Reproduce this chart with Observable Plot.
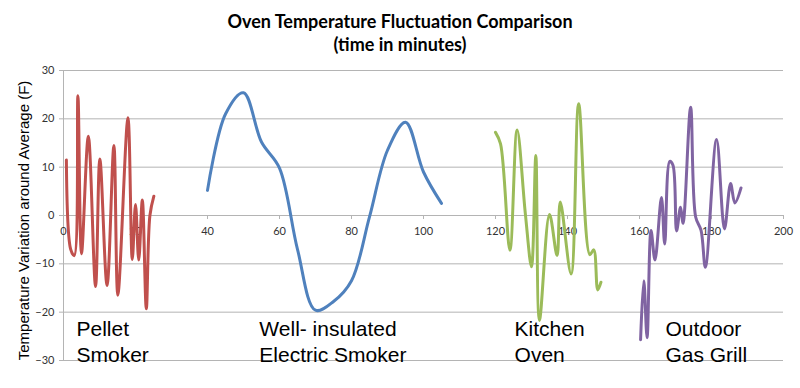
<!DOCTYPE html>
<html><head><meta charset="utf-8">
<script src="https://cdn.jsdelivr.net/npm/d3@7"></script>
<script src="https://cdn.jsdelivr.net/npm/@observablehq/plot@0.6"></script>
<style>
body{margin:0;background:#fff;width:800px;height:388px;overflow:hidden}
#title{height:58px;box-sizing:border-box;padding-top:10px;text-align:center;font:bold 18px/23px Lato,"Liberation Sans",sans-serif;color:#000}
#chart svg{display:block}
</style></head><body>
<div id="title">Oven Temperature Fluctuation Comparison<br>(time in minutes)</div>
<div id="chart"></div>
<script>
const seriesNames = ["Pellet Smoker", "Electric Smoker", "Kitchen Oven", "Outdoor Gas Grill"];
const seriesColors = ["#c0504d", "#4f81bd", "#9bbb59", "#8064a2"];

const pelletX = [0.8, 2, 3, 4, 5, 6.9, 8.9, 10.1, 12.1, 14, 15.1, 17.9, 19.1, 20, 20.9, 21.9, 23, 24, 25.1];
const pelletY = [11.5, -7, -8.3, 24.8, -7.9, 16.4, -14.7, 11.7, -14.5, 14.5, -16.5, 20.2, -9.1, 2.3, -9.2, 3.2, -19.3, 0, 4];

const electricX = [40, 45, 50, 55, 60, 65, 70, 75, 80, 85, 90, 95, 100, 105];
const electricY = [5.2, 21, 25.4, 15.2, 9.8, -7, -19.6, -17.8, -13.5, -0.3, 13.5, 19.3, 9, 2.5];

const kitchenX = [120, 121.4, 124, 126, 128.3, 130, 131.2, 132.2, 135, 137.1, 138, 141, 143.1, 146.2, 147.3, 148.4, 149.3];
const kitchenY = [17.2, 14.8, -7.2, 17.7, 0.3, -10.6, 12.4, -21.7, 0.2, -8.3, 2.8, -12.1, 23.1, -8.1, -7.1, -15.4, -13.8];

const grillX = [160.3, 161.2, 162.1, 163.2, 164.3, 166.1, 167, 168.4, 169.3, 170.3, 171.4, 172.1, 174.2, 175.6, 177.1, 178.3, 181.4, 183.6, 185.3, 186.5, 188.2];
const grillY = [-25.7, -13.5, -25.3, -3.1, -9.2, 3.7, -5.9, 11.2, 10.4, -3.2, 1.7, -1.6, 22.4, -0.3, -3.1, -10.7, 15.7, -2.8, 6.6, 2.6, 5.7];

const xTicks = [0, 20, 40, 60, 80, 100, 120, 140, 160, 180, 200];
const yTicks = [-30, -20, -10, 0, 10, 20, 30];
const yTitle = "Temperature Variation around Average (F)";

const annotText = ["Pellet\nSmoker", "Well- insulated\nElectric Smoker", "Kitchen\nOven", "Outdoor\nGas Grill"];
const annotX = [3.6, 54.4, 125.3, 167.2];
const annotY = [-21.0, -21.0, -21.0, -21.0];

const seriesXs = [pelletX, electricX, kitchenX, grillX];
const seriesYs = [pelletY, electricY, kitchenY, grillY];
const rows = [];
seriesNames.forEach((name, s) => {
  seriesXs[s].forEach((t, i) => rows.push({series: name, t, v: seriesYs[s][i]}));
});
const annots = annotText.map((text, i) => ({text, x: annotX[i], y: annotY[i]}));

const sansFont = "'Liberation Sans', Arial, sans-serif";
const tickFont = "Lato, 'Liberation Sans', sans-serif";

const chart = Plot.plot({
  width: 800,
  height: 330,
  marginTop: 12,
  marginBottom: 28,
  marginLeft: 63,
  marginRight: 17,
  style: {fontFamily: sansFont, background: "#fff"},
  x: {domain: [0, 200], axis: null},
  y: {domain: [-30, 30], axis: null},
  color: {domain: seriesNames, range: seriesColors},
  marks: [
    Plot.gridY(yTicks, {stroke: "#b4b4b4", strokeOpacity: 1, strokeWidth: 1}),
    Plot.ruleX([0], {stroke: "#b4b4b4", strokeWidth: 1}),
    Plot.axisY(yTicks, {tickSize: 4, tickPadding: 5, stroke: "#b4b4b4", fill: "#333", fontSize: 11, label: null, fontFamily: tickFont}),
    Plot.ruleX(xTicks, {x: d => d, y1: 0, y2: 0, insetBottom: -4, stroke: "#b4b4b4"}),
    Plot.text(xTicks, {x: d => d, y: 0, dy: 16, text: d => String(d), fontSize: 11, fill: "#333", fontFamily: tickFont}),
    Plot.text([yTitle], {frameAnchor: "left", textAnchor: "middle", lineAnchor: "middle", rotate: -90, dx: -39, dy: 5, text: d => d, fontSize: 15, fill: "#000", fontFamily: sansFont}),
    Plot.line(rows, {x: "t", y: "v", z: "series", stroke: "series", strokeWidth: 3, curve: "catmull-rom", strokeLinejoin: "round", strokeLinecap: "round"}),
    Plot.text(annots, {x: "x", y: "y", text: "text", textAnchor: "start", lineAnchor: "top", lineHeight: 1.24, fontSize: 21, fill: "#000", fontFamily: sansFont})
  ]
});
document.getElementById("chart").appendChild(chart);
</script></body></html>
